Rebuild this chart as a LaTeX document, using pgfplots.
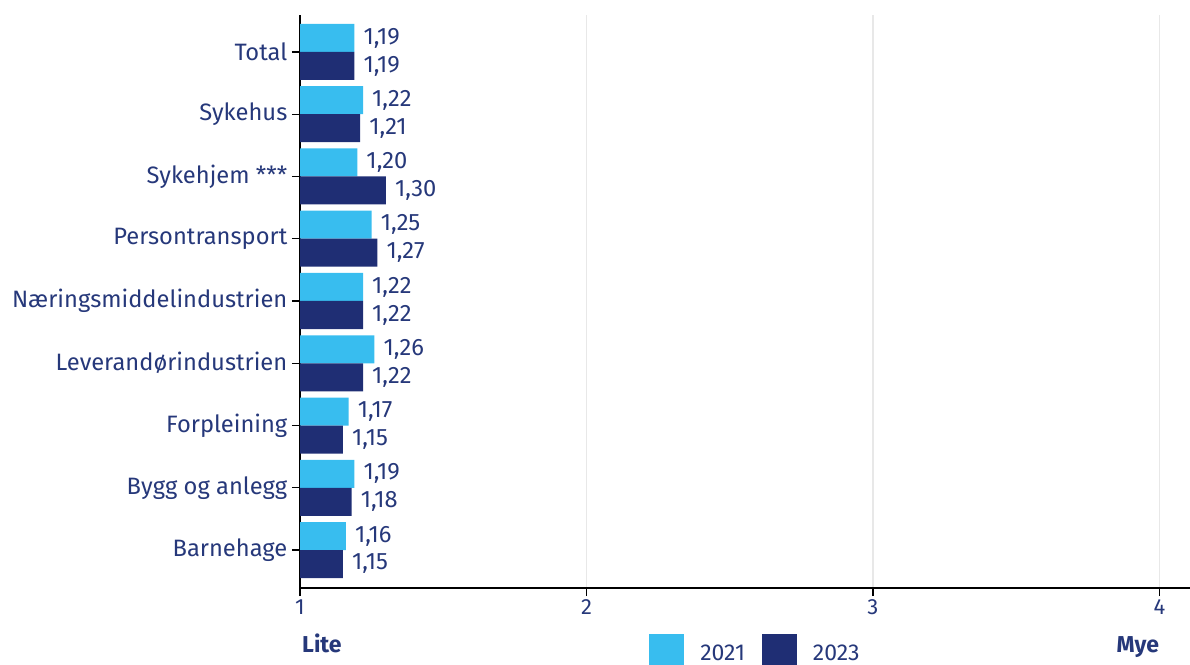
\documentclass[border=0pt]{standalone}
\usepackage{fontspec}
\setmainfont{Fira Sans}
\usepackage{pgfplots}
\pgfplotsset{compat=1.18}
\definecolor{lb}{HTML}{38BDEF}
\definecolor{nv}{HTML}{1F2E74}
\definecolor{tx}{HTML}{26387A}
\begin{document}
\begin{tikzpicture}[x=1pt,y=1pt]
\useasboundingbox (0,0) rectangle (1190,664);
\begin{axis}[
  at={(300pt,76pt)}, anchor=south west,
  scale only axis, width=890pt, height=573pt,
  xmin=1, xmax=4.107, ymin=-0.61, ymax=8.594,
  xbar, bar width=28pt,
  axis x line*=bottom, axis y line*=left,
  axis line style={line width=1.8pt, black},
  xtick={1,2,3,4}, xticklabels={1,2,3,4},
  ytick={0,...,8},
  yticklabels={Barnehage,Bygg og anlegg,Forpleining,Leverandørindustrien,Næringsmiddelindustrien,Persontransport,Sykehjem ***,Sykehus,Total},
  tick align=outside, major tick length=8pt,
  tick style={black, line width=1.2pt},
  xmajorgrids, grid style={gray!18, line width=1.5pt},
  yticklabel style={font=\fontsize{23.7}{26}\selectfont, text=tx, inner sep=4.5pt},
  xticklabel style={font=\fontsize{22}{24}\selectfont, text=tx},
  /pgf/number format/assume math mode=true,
  nodes near coords={\pgfmathprintnumber[fixed,fixed zerofill,precision=2,use comma,assume math mode=true]{\pgfplotspointmeta}},
  nodes near coords style={font=\fontsize{23.7}{26}\selectfont, text=tx, anchor=west, inner sep=0pt, xshift=9pt},
  point meta=x,
  clip=false,
  legend style={at={(axis description cs:0.3922,-0.0800)}, anchor=north west, draw=none, fill=none,
    inner sep=0pt, font=\fontsize{23}{25}\selectfont, text=tx, legend columns=2,
    /tikz/every odd column/.append style={column sep=16pt},
    /tikz/every even column/.append style={column sep=17pt},
    nodes={inner sep=0pt, anchor=base west}},
  legend image code/.code={\fill[#1] (0pt,-10pt) rectangle (35pt,26pt);},
]
\addplot[fill=lb, draw=none, bar shift=14pt] coordinates {
(1.16,0) (1.19,1) (1.17,2) (1.26,3) (1.22,4) (1.25,5) (1.20,6) (1.22,7) (1.19,8)};
\addlegendentry{2021}
\addplot[fill=nv, draw=none, bar shift=-14pt] coordinates {
(1.15,0) (1.18,1) (1.15,2) (1.22,3) (1.22,4) (1.27,5) (1.30,6) (1.21,7) (1.19,8)};
\addlegendentry{2023}
\node[anchor=base west, text=tx, font=\fontsize{23}{25}\selectfont\bfseries, inner sep=0pt] at ([xshift=2pt,yshift=-64pt]rel axis cs:0,0) {Lite};
\node[anchor=base east, text=tx, font=\fontsize{23}{25}\selectfont\bfseries, inner sep=0pt] at ([yshift=-64pt]axis cs:4,-0.61) {Mye};
\end{axis}
\end{tikzpicture}
\end{document}
